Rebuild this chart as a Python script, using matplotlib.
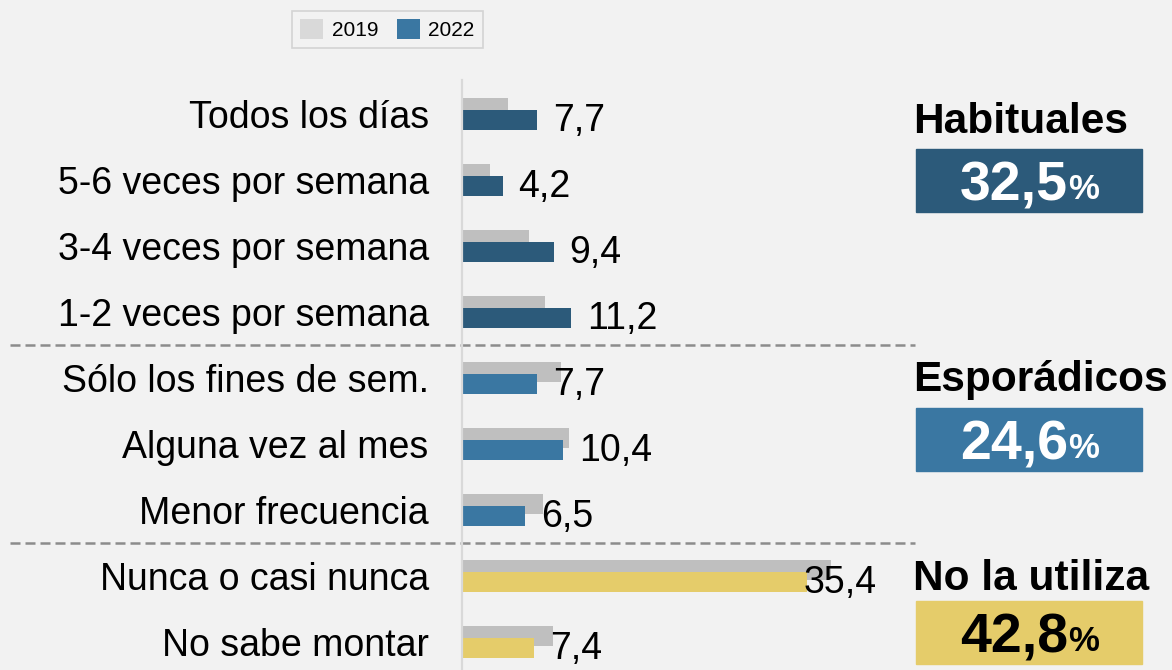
import matplotlib.pyplot as plt
from matplotlib.patches import Patch, Rectangle
from matplotlib.transforms import blended_transform_factory

plt.rcParams['font.family'] = ['Liberation Sans', 'DejaVu Sans']

# data
categories = ['Todos los días', '5-6 veces por semana', '3-4 veces por semana',
              '1-2 veces por semana', 'Sólo los fines de sem.', 'Alguna vez al mes',
              'Menor frecuencia', 'Nunca o casi nunca', 'No sabe montar']
v2019 = [4.7, 2.9, 6.9, 8.5, 10.2, 11.0, 8.3, 37.8, 9.3]
v2022 = [7.7, 4.2, 9.4, 11.2, 7.7, 10.4, 6.5, 35.4, 7.4]
labels2022 = ['7,7', '4,2', '9,4', '11,2', '7,7', '10,4', '6,5', '35,4', '7,4']
group_of = [0, 0, 0, 0, 1, 1, 1, 2, 2]
group_names = ['Habituales', 'Esporádicos', 'No la utiliza']
group_totals = ['32,5', '24,6', '42,8']

# styles
bg = '#f2f2f2'
group_colors = ['#2c5a7a', '#3a77a2', '#e5cc6a']
group_txt = ['white', 'white', 'black']
gray19 = '#bfbfbf'

W, H = 1172, 670
fig = plt.figure(figsize=(W / 100, H / 100), dpi=100, facecolor=bg)

def fx(px):
    return px / W

def fy(py):
    return 1 - py / H

# axes: value 0 at x=462px, 9.75 px per unit; rows 66px apart, row 0 centered at 114px
ax = fig.add_axes([fx(462), 0, (910 - 462) / W, (H - 80) / H])
ax.set_facecolor(bg)
ax.set_xlim(0, 448 / 9.75)
ax.set_ylim((H - 114) / 66, (80 - 114) / 66)

rows = list(range(len(categories)))
off = 6 / 66
hgt = 20 / 66
ax.barh([r - off for r in rows], v2019, height=hgt, color=gray19, zorder=1)
ax.barh([r + off for r in rows], v2022, height=hgt,
        color=[group_colors[g] for g in group_of], zorder=2)

for r, v, lab in zip(rows, v2022, labels2022):
    ax.text(min(v + 1.6, 35.0), r + off + 0.02, lab, fontsize=27,
            va='center', ha='left', zorder=3)

ax.set_yticks(rows)
ax.set_yticklabels(categories, fontsize=27)
ax.tick_params(axis='y', length=0, pad=24)
ax.set_xticks([])
for s in ['top', 'right', 'bottom']:
    ax.spines[s].set_visible(False)
ax.spines['left'].set_color('#d9d9d9')
ax.spines['left'].set_linewidth(1.6)

# dashed separators between groups
tr = blended_transform_factory(fig.transFigure, ax.transData)
for yy in [3.5, 6.5]:
    ax.plot([fx(10), fx(915)], [yy, yy], transform=tr, clip_on=False,
            color='#8c8c8c', lw=1.8, linestyle=(0, (4, 2)))

# group boxes
title_y = [122, 380, 579]
box_top = [149, 408, 601]
box_h = 63
for i in range(3):
    fig.text(fx(913), fy(title_y[i]), group_names[i], fontsize=30.5,
             fontweight='bold', ha='left', va='center')
    fig.patches.append(Rectangle((fx(916), fy(box_top[i] + box_h)), 226 / W, box_h / H,
                                 transform=fig.transFigure, color=group_colors[i]))
    cy = fy(box_top[i] + box_h / 2 + 6)
    fig.text(fx(1068), cy, group_totals[i], fontsize=40, fontweight='bold',
             color=group_txt[i], ha='right', va='center')
    fig.text(fx(1068), cy - 3 / H, '%', fontsize=25, fontweight='bold',
             color=group_txt[i], ha='left', va='center')

# legend
handles = [Patch(facecolor='#d9d9d9', label='2019'),
           Patch(facecolor='#3a77a2', label='2022')]
leg = fig.legend(handles=handles, loc='upper left', bbox_to_anchor=(fx(292), fy(11)),
                 ncol=2, fontsize=15, frameon=True, fancybox=False,
                 handlelength=1.1, handleheight=1.05, handletextpad=0.4,
                 columnspacing=0.9, borderpad=0.4, borderaxespad=0)
leg.get_frame().set_facecolor(bg)
leg.get_frame().set_edgecolor('#cccccc')
leg.get_frame().set_linewidth(1.2)

fig.savefig('out.png', dpi=100, facecolor=bg)
